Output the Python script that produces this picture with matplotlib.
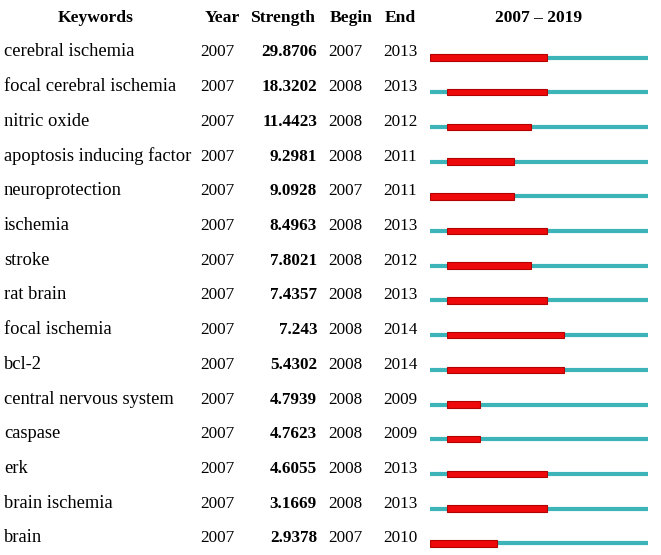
import matplotlib
matplotlib.use("Agg")
import matplotlib.pyplot as plt

keywords = ["cerebral ischemia", "focal cerebral ischemia", "nitric oxide",
            "apoptosis inducing factor", "neuroprotection", "ischemia", "stroke",
            "rat brain", "focal ischemia", "bcl-2", "central nervous system",
            "caspase", "erk", "brain ischemia", "brain"]
year = [2007] * 15
strength = ["29.8706", "18.3202", "11.4423", "9.2981", "9.0928", "8.4963",
            "7.8021", "7.4357", "7.243", "5.4302", "4.7939", "4.7623",
            "4.6055", "3.1669", "2.9378"]
begin = [2007, 2008, 2008, 2008, 2007, 2008, 2008, 2008, 2008, 2008,
         2008, 2008, 2008, 2008, 2007]
end = [2013, 2013, 2012, 2011, 2011, 2013, 2012, 2013, 2014, 2014,
       2009, 2009, 2013, 2013, 2010]
span_start, span_end = 2007, 2019

RED = "#ee0a0a"
RED_EDGE = "#b40000"
TEAL = "#3db4b8"
FONT = "Liberation Serif"

W, H = 661, 555
fig = plt.figure(figsize=(W / 100, H / 100), dpi=100)
fig.patch.set_facecolor("white")

ax = fig.add_axes([0, 0, 1, 1])
ax.set_xlim(0, W)
ax.set_ylim(H, 0)
ax.axis("off")

# timeline axes, x in years
tax = fig.add_axes([430 / W, 0, 218 / W, 1])
tax.set_xlim(span_start, span_end + 1)
tax.set_ylim(H, 0)
tax.axis("off")

fs = 12.3
hdr = dict(fontsize=12.6, fontweight="bold", family=FONT, va="baseline", ha="center")
hy = 22.5
ax.text(96, hy, "Keywords", **hdr)
ax.text(222, hy, "Year", **hdr)
ax.text(283, hy, "Strength", **hdr)
ax.text(351, hy, "Begin", **hdr)
ax.text(400, hy, "End", **hdr)
ax.text(539, hy, f"{span_start} \u2013 {span_end}", **hdr)

dy = 34.7
for i, kw in enumerate(keywords):
    yb = 56.5 + i * dy
    txt = dict(family=FONT, va="baseline")
    ax.text(4, yb, kw, ha="left", fontsize=13.3, **txt)
    ax.text(200, yb, str(year[i]), ha="left", fontsize=fs, **txt)
    ax.text(317, yb, strength[i], ha="right", fontweight="bold", fontsize=fs, **txt)
    ax.text(328, yb, str(begin[i]), ha="left", fontsize=fs, **txt)
    ax.text(383, yb, str(end[i]), ha="left", fontsize=fs, **txt)

    ybar = 57.5 + i * dy
    tax.hlines(ybar, span_start, span_end + 1, color=TEAL, lw=3, zorder=1)
    tax.barh(ybar, end[i] + 1 - begin[i], left=begin[i], height=6.5,
             color=RED, edgecolor=RED_EDGE, linewidth=0.8, zorder=2)

fig.savefig("out.png", dpi=100, facecolor="white")
